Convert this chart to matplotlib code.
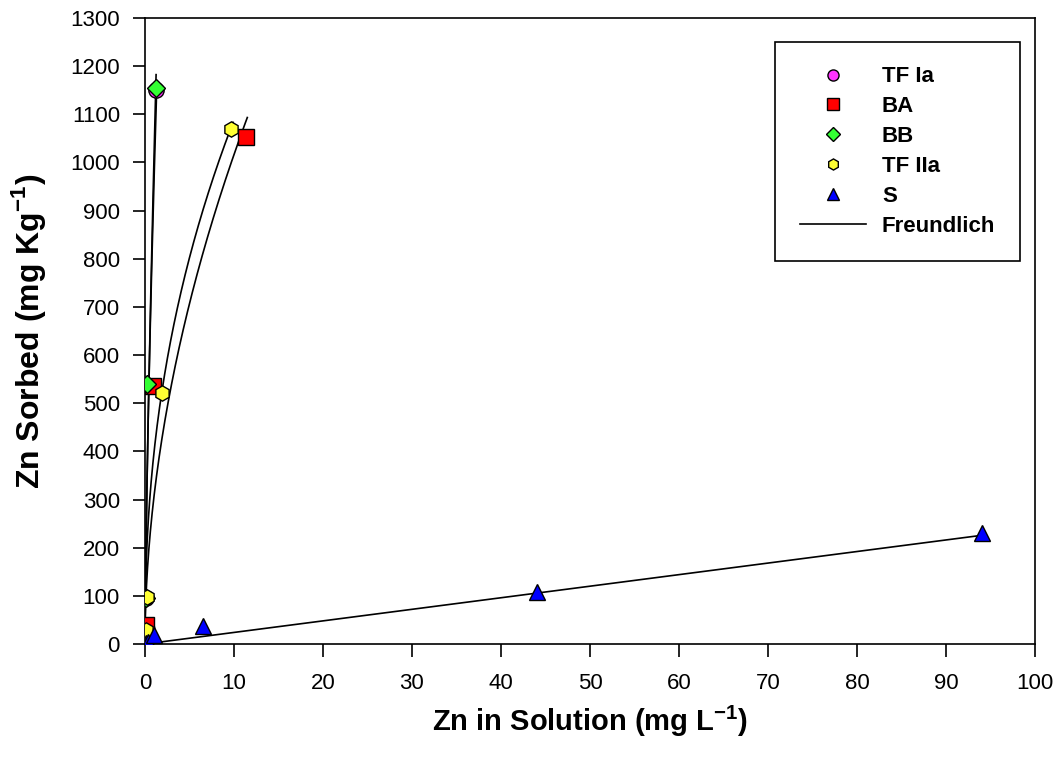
import numpy as np
import matplotlib
matplotlib.use("Agg")
import matplotlib.pyplot as plt

plt.rcParams['font.family'] = ['Liberation Sans', 'DejaVu Sans']
plt.rcParams['mathtext.fontset'] = 'custom'
plt.rcParams['mathtext.rm'] = 'Liberation Sans'
plt.rcParams['mathtext.bf'] = 'Liberation Sans:bold'

# Observed data (mg L-1, mg Kg-1)
tf1_x = [0.01, 0.05, 0.15, 0.6, 1.2]
tf1_y = [8, 25, 95, 535, 1150]
ba_x = [0.02, 0.1, 0.15, 0.9, 11.4]
ba_y = [10, 20, 40, 535, 1053]
bb_x = [0.01, 0.03, 0.1, 0.2, 1.2]
bb_y = [6, 22, 96, 540, 1155]
tf2_x = [0.03, 0.1, 0.2, 1.9, 9.7]
tf2_y = [10, 30, 97, 522, 1070]
s_x = [0.1, 0.3, 1.0, 6.5, 44.0, 94.0]
s_y = [2, 5, 18, 37, 107, 230]

# Freundlich parameters (K, n) and curve x-range end
fr_names = ["TF Ia", "BA", "BB", "TF IIa", "S"]
fr_K = [950, 304, 1000, 395, 2.4]
fr_n = [0.70, 0.524, 0.75, 0.44, 1.0]
fr_xmax = [1.33, 11.5, 1.25, 9.9, 94.0]

fig = plt.figure(figsize=(10.62, 7.58), dpi=100)
ax = fig.add_axes([0.1365, 0.1504, 0.838, 0.826])

for K, n, xm in zip(fr_K, fr_n, fr_xmax):
    xx = np.linspace(0.0005, xm, 400)
    ax.plot(xx, K * xx ** n, color='black', lw=1.2, zorder=2)

ms = 11
series = [
    (tf1_x, tf1_y, 'o', '#ff33ff', "TF Ia"),
    (ba_x, ba_y, 's', '#ff0000', "BA"),
    (bb_x, bb_y, 'D', '#33ff33', "BB"),
    (tf2_x, tf2_y, 'h', '#ffff33', "TF IIa"),
    (s_x, s_y, '^', '#0000ff', "S"),
]
handles = []
for x, y, m, c, lab in series:
    size = ms - 2 if m == 'D' else ms
    ax.plot(x, y, linestyle='none', marker=m, markersize=size,
            markerfacecolor=c, markeredgecolor='black', markeredgewidth=1.0, zorder=3)
    h, = ax.plot([], [], linestyle='none', marker=m, markersize=(8 if m != 'D' else 7),
                 markerfacecolor=c, markeredgecolor='black', markeredgewidth=1.0, label=lab)
    handles.append(h)
hl, = ax.plot([], [], color='black', lw=1.2, label="Freundlich")
handles.append(hl)

ax.set_xlim(0, 100)
ax.set_ylim(0, 1300)
ax.set_xticks(np.arange(0, 101, 10))
ax.set_yticks(np.arange(0, 1301, 100))
ax.tick_params(direction='out', length=9, width=1.2, labelsize=16)
ax.tick_params(axis='x', pad=12)
ax.tick_params(axis='y', pad=9)
for sp in ax.spines.values():
    sp.set_linewidth(1.2)

ax.set_xlabel("Zn in Solution (mg L$^{\\mathbf{-1}}$)", fontsize=21, fontweight='bold', labelpad=7)
ax.set_ylabel("Zn Sorbed (mg Kg$^{\\mathbf{-1}}$)", fontsize=23, fontweight='bold', labelpad=16)

leg = ax.legend(handles=handles, loc='upper right', bbox_to_anchor=(0.983, 0.9617),
                borderaxespad=0,
                frameon=True, fancybox=False, edgecolor='black', framealpha=1,
                prop={'weight': 'bold', 'size': 16}, handlelength=3.0,
                borderpad=1.1, labelspacing=0.4, handletextpad=0.7)
leg.get_frame().set_linewidth(1.2)

fig.savefig("out.png", dpi=100)
